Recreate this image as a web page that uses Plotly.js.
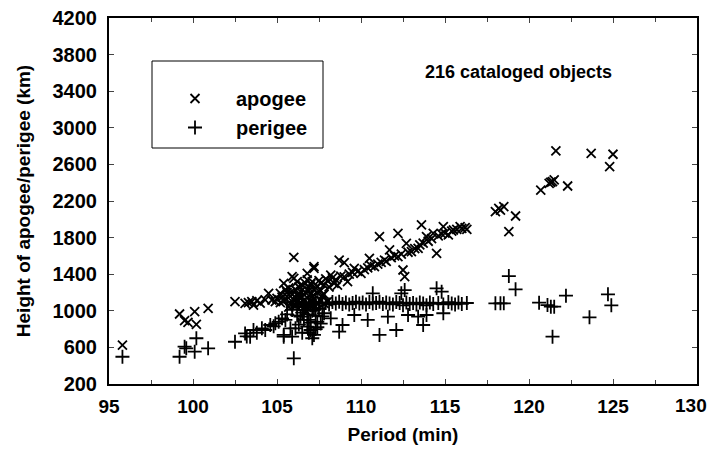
<!DOCTYPE html>
<html>
<head>
<meta charset="utf-8">
<script src="https://cdn.plot.ly/plotly-3.0.1.min.js"></script>
<style>html,body{margin:0;padding:0;background:#fff;}#chart{width:710px;height:453px;}</style>
</head>
<body>
<div id="chart"></div>
<script>
// Apogee (period min, height km)
const apogeePeriod = [95.8,99.2,99.5,99.7,100.1,100.2,100.9,
  102.5,103.1,103.3,103.5,103.6,103.8,104.0,104.3,104.5,104.7,104.9,105.0,105.2,105.4,105.6,105.8,106.0,106.2,106.4,106.6,106.8,107.0,107.2,107.4,107.6,107.8,108.0,
  105.2,105.4,105.5,105.7,105.9,106.0,106.0,106.2,106.3,106.4,106.5,106.7,106.8,106.8,107.0,107.1,107.2,107.2,107.3,107.5,107.6,107.8,107.9,108.0,108.2,108.3,108.5,108.7,109.0,108.8,109.0,109.2,109.3,109.5,109.6,109.8,110.0,110.2,110.5,110.4,110.6,110.8,111.0,111.1,111.2,111.4,111.5,111.7,111.8,112.0,112.2,112.2,112.4,112.5,112.6,112.7,112.8,113.0,113.2,113.4,113.5,113.6,113.7,113.9,114.0,114.2,114.3,114.5,114.6,114.8,114.9,115.0,115.2,115.4,115.5,115.7,115.9,116.0,116.2,116.3,
  106.6,106.9,107.1,107.4,107.7,106.3,105.8,
  105.3,105.6,105.9,106.1,106.3,106.5,106.7,106.9,107.0,107.2,107.4,107.6,107.8,108.1,108.4,108.6,105.7,106.1,106.5,106.9,107.3,
  118.0,118.2,118.5,118.3,119.2,118.8,120.7,121.2,121.3,121.4,121.5,121.6,122.3,123.7,124.8,125.0];
const apogeeHeight = [626,965,892,874,990,852,1027,
  1100,1082,1090,1100,1063,1110,1085,1120,1191,1118,1100,1136,1090,1110,1154,1080,1120,1100,1090,1110,1080,1100,1120,1090,1110,1080,1100,
  1190,1300,1230,1250,1373,1355,1585,1318,1260,1209,1280,1300,1410,1337,1290,1320,1482,1464,1250,1330,1300,1282,1350,1330,1391,1360,1340,1555,1526,1380,1370,1318,1400,1420,1464,1430,1410,1450,1574,1470,1490,1482,1510,1810,1530,1555,1540,1665,1580,1600,1847,1591,1620,1446,1373,1738,1640,1646,1680,1683,1720,1938,1740,1810,1760,1790,1847,1628,1820,1840,1919,1850,1829,1870,1883,1890,1919,1900,1910,1890,
  1180,1220,1160,1200,1170,1150,1200,
  1150,1200,1180,1230,1170,1150,1200,1250,1180,1230,1270,1220,1180,1260,1300,1280,1040,1050,1060,1040,1050,
  2083,2120,2138,2100,2036,1865,2320,2393,2405,2411,2430,2747,2364,2721,2575,2711];

// Perigee (period min, height km)
const perigeePeriod = [95.8,99.2,99.5,99.6,100.1,100.2,100.9,
  102.5,103.1,103.2,103.4,103.6,103.8,104.1,104.3,104.6,104.8,104.9,105.1,105.3,105.4,105.4,105.5,105.8,105.9,106.0,106.1,106.2,106.4,106.5,106.6,106.7,106.8,106.9,107.0,107.2,107.1,107.3,107.4,107.5,107.6,107.7,
  105.6,105.9,106.1,106.3,106.5,106.7,106.9,107.1,107.3,107.5,107.7,107.9,108.1,108.3,108.5,108.7,108.9,109.1,109.3,109.5,109.7,109.9,110.1,110.3,110.5,110.7,110.9,111.1,111.3,111.5,111.7,111.9,112.1,112.3,112.5,112.7,112.9,113.1,113.3,113.5,113.7,113.9,114.1,114.3,114.6,114.9,115.2,115.4,115.6,115.8,116.0,116.3,
  106.3,106.6,106.8,107.0,107.2,107.4,106.9,107.1,107.3,106.5,107.0,106.7,105.6,105.9,106.2,
  107.8,108.2,108.7,108.9,109.6,110.4,110.7,111.1,111.6,112.1,112.4,112.6,112.8,113.4,113.7,113.9,114.5,114.8,114.9,
  118.0,118.3,118.5,118.8,119.2,120.6,121.1,121.3,121.5,122.2,121.4,123.6,124.7,124.9];
const perigeeHeight = [498,498,608,590,553,700,590,
  662,753,720,717,790,760,808,790,845,830,863,880,918,736,717,900,808,717,481,808,950,936,980,1009,1040,827,900,790,736,1000,950,880,1020,860,940,
  1090,1070,1100,1080,1095,1070,1090,1080,1100,1075,1090,1085,1070,1095,1080,1100,1075,1090,1070,1085,1100,1080,1090,1070,1095,1080,1085,1100,1075,1090,1080,1070,1095,1085,1060,1090,1075,1085,1070,1090,1080,1060,1090,1075,1085,1070,1095,1080,1070,1090,1075,1085,
  850,900,960,870,1010,820,760,700,800,760,1060,1050,960,1010,1040,
  973,918,772,845,954,900,1191,736,936,790,1191,1227,954,936,845,954,1246,1209,973,
  1082,1082,1082,1380,1235,1089,1063,1045,1045,1165,717,929,1180,1060];

const xTickVals = [95,100,105,110,115,120,125,130];
const xTickText = ['95','100','105','110','115','120','125',''];
const xLastLabel = '130';
const yTickVals = [200,600,1000,1400,1800,2200,2600,3000,3400,3800,4200];

const FONT = "'Liberation Sans', Arial, sans-serif";

const traces = [
  {x: apogeePeriod, y: apogeeHeight, type: 'scatter', mode: 'markers', name: 'apogee',
   marker: {symbol: 'x-thin-open', size: 9, color: '#000', line: {color: '#000', width: 1.8}}},
  {x: perigeePeriod, y: perigeeHeight, type: 'scatter', mode: 'markers', name: 'perigee',
   marker: {symbol: 'cross-thin-open', size: 10, color: '#000', line: {color: '#000', width: 1.8}}}
];

const layout = {
  width: 710, height: 453,
  margin: {l: 109, r: 13, t: 18, b: 69},
  paper_bgcolor: '#fff', plot_bgcolor: '#fff',
  font: {family: FONT, color: '#000', size: 20, weight: 'bold'},
  showlegend: true,
  legend: {x: (154-109)/588, y: (384-79)/366, xanchor: 'left', yanchor: 'top', bgcolor: 'rgba(0,0,0,0)',
           borderwidth: 0, font: {family: FONT, size: 20, color: '#000', weight: 'bold'},
           itemwidth: 72, traceorder: 'normal'},
  xaxis: {range: [95, 130], tickvals: xTickVals, ticktext: xTickText, ticks: 'inside', ticklen: 5, tickwidth: 1,
          showline: true, linewidth: 2, linecolor: '#000', mirror: 'ticks', showgrid: false, zeroline: false,
          minor: {dtick: 2.5, ticks: 'inside', ticklen: 4, tickwidth: 1, showgrid: false},
          tickfont: {family: FONT, size: 19, weight: 'bold'}, ticklabelstandoff: 4,
          title: {text: 'Period (min)', font: {family: FONT, size: 19, weight: 'bold'}, standoff: 12}},
  yaxis: {range: [200, 4200], tickvals: yTickVals, ticks: 'inside', ticklen: 5, tickwidth: 1,
          showline: true, linewidth: 2, linecolor: '#000', mirror: 'ticks', showgrid: false, zeroline: false,
          tickfont: {family: FONT, size: 20, weight: 'bold'}, ticklabelstandoff: 6,
          title: {text: 'Height of apogee/perigee (km)', font: {family: FONT, size: 19, weight: 'bold'}, standoff: 17}},
  shapes: [
    {type: 'rect', xref: 'paper', yref: 'paper', x0: (152-109)/588, x1: (323-109)/588,
     y0: (384-148)/366, y1: (384-61)/366, line: {color: '#000', width: 1}}
  ],
  annotations: [
    {xref: 'paper', yref: 'paper', x: (518-109)/588, y: (384-72)/366, xanchor: 'center', yanchor: 'middle',
     showarrow: false, text: '216 cataloged objects', font: {family: FONT, size: 18, weight: 'bold', color: '#000'}},
    {xref: 'x', yref: 'paper', x: 130, y: 0, xanchor: 'right', yanchor: 'top', xshift: 12, yshift: -9,
     showarrow: false, text: xLastLabel, font: {family: FONT, size: 19, weight: 'bold', color: '#000'}}
  ]
};

Plotly.newPlot('chart', traces, layout, {displayModeBar: false, staticPlot: true});
</script>
</body>
</html>
